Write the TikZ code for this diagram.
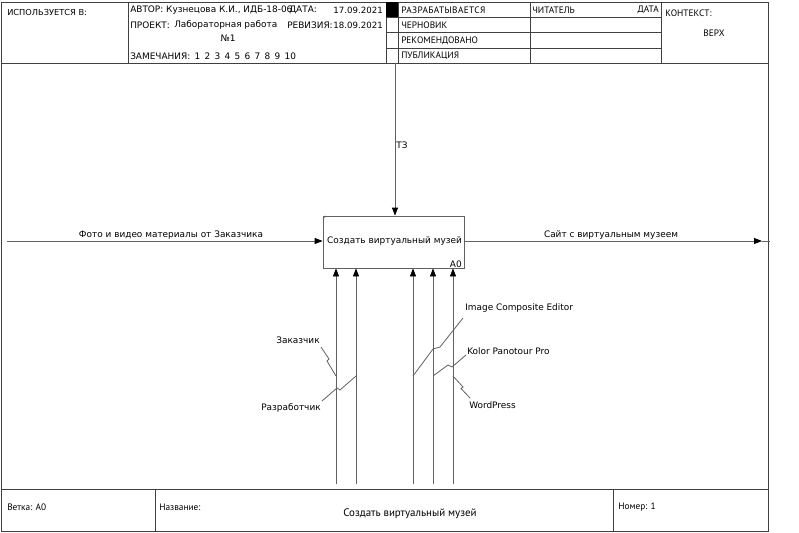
\documentclass[tikz,border=0pt]{standalone}
\usepackage{fontspec}
\setmainfont{DejaVu Sans}
\newfontfamily\ptsans{PT Sans}
\usetikzlibrary{arrows.meta}
\begin{document}
\begin{tikzpicture}[x=0.75pt,y=-0.75pt,
  frame/.style={draw=black!75, line width=0.6pt},
  ln/.style={draw=black!62, line width=0.6pt},
  arr/.style={ln, -{Triangle[length=6pt,width=4.5pt,color=black,fill=black]}},
  lbl/.style={font=\fontsize{6.7}{8}\selectfont, inner sep=0pt},
  hdr0/.style={font=\fontsize{6.2}{7}\selectfont, inner sep=0pt, anchor=west},
  hdr/.style={font=\fontsize{6.7}{7}\selectfont, inner sep=0pt, anchor=west},
  hdrd/.style={font=\fontsize{6.45}{7}\selectfont, inner sep=0pt, anchor=east},
  hdrb/.style={font=\ptsans\fontsize{7}{8}\selectfont, inner sep=0pt, anchor=west},
  fbox/.style={draw=black!62, line width=0.6pt, minimum width=105.75pt, minimum height=39pt, inner sep=0pt},
]
\useasboundingbox (0,0) rectangle (799,532);
\fill[white] (0,0) rectangle (799,532);
% frame
\draw[frame] (1,2) rectangle (768,531);
\draw[frame] (1,63) -- (768,63);
\draw[frame] (1,489) -- (768,489);
\draw[frame] (128,2) -- (128,63);
\draw[frame] (386,2) -- (386,63);
\draw[frame] (398,2) -- (398,63);
\draw[frame] (530,2) -- (530,63);
\draw[frame] (661,2) -- (661,63);
\draw[frame] (386,17) -- (661,17);
\draw[frame] (386,32) -- (661,32);
\draw[frame] (386,48) -- (661,48);
\fill[black] (386,2) rectangle (398,17);
\draw[frame] (155,489) -- (155,531);
\draw[frame] (613,489) -- (613,531);
% header texts
\node[hdr0] (h1) at (7,12) {ИСПОЛЬЗУЕТСЯ В:};
\node[hdr] (h2) at (130,10) {АВТОР: Кузнецова К.И., ИДБ-18-06};
\node[hdr] (h3) at (289,10) {ДАТА:};
\node[hdrd] (h4) at (383,10) {17.09.2021};
\node[hdr] (h5) at (130,25) {ПРОЕКТ:};
\node[hdr] (h6) at (174,25) {Лабораторная работа};
\node[hdr,anchor=center] (h7) at (228,38) {№1};
\node[hdr] (h8) at (287,25) {РЕВИЗИЯ:};
\node[hdrd] (h9) at (383,25) {18.09.2021};
\node[hdr] (h10) at (130,56) {ЗАМЕЧАНИЯ:\ \,1\ \,2\ \,3\ \,4\ \,5\ \,6\ \,7\ \,8\ \,9\ \,10};
\node[hdrb] (r1) at (401,10) {\addfontfeature{LetterSpace=4}РАЗРАБАТЫВАЕТСЯ};
\node[hdrb] (r2) at (401,25) {ЧЕРНОВИК};
\node[hdrb] (r3) at (401,41) {РЕКОМЕНДОВАНО};
\node[hdrb] (r4) at (401,56) {ПУБЛИКАЦИЯ};
\node[hdrb] (r5) at (532,10) {ЧИТАТЕЛЬ};
\node[hdrb,anchor=east] (r6) at (659,10) {ДАТА};
\node[hdrb] (r7) at (665,13) {КОНТЕКСТ:};
\node[hdrb,anchor=center] (r8) at (714,33) {ВЕРХ};
% footer
\node[hdrb] (f1) at (7,507) {Ветка: А0};
\node[hdrb] (f2) at (159,507) {Название:};
\node[hdrb,anchor=center,font=\ptsans\fontsize{8.2}{9}\selectfont] (f3) at (410,514) {Создать виртуальный музей};
\node[hdrb] (f4) at (618,507) {Номер: 1};
% function box
\node[fbox] (box) at (393.5,242) {};
\node[lbl] (boxt) at (394.5,241) {Создать виртуальный музей};
\node[lbl,anchor=east] (boxn) at (462,264) {А0};
\draw[ln] (323,218.5) -- (325.5,216);
% input
\coordinate (inS) at (7,241);
\draw[arr] (inS) -- (box.west |- inS);
\node[lbl] (inL) at (171,235) {Фото и видео материалы от Заказчика};
% output
\coordinate (outE) at (762,241);
\coordinate (outX) at (770,241);
\draw[arr] (box.east |- outE) -- (outE);
\draw[ln] (outE) -- (outX);
\node[lbl] (outL) at (611,235) {Сайт с виртуальным музеем};
% control
\coordinate (cS) at (395,63);
\draw[arr] (cS) -- (box.north -| cS);
\node[lbl] (cL) at (402,145) {ТЗ};
% mechanisms
\foreach \n/\x in {1/336,2/356,3/413,4/433,5/453}{
  \coordinate (m\n) at (\x,484);
  \coordinate (j\n) at (\x,376);
  \draw[arr] (m\n) -- (box.south -| m\n);
}
% mechanism labels and squiggles
\node[lbl] (mL1) at (298,340) {Заказчик};
\draw[ln] (321,347) -- (329,359) -- (327,361) -- (j1);
\node[lbl] (mL2) at (291,408) {Разработчик};
\draw[ln] (322,401) -- (337,388) -- (340,390) -- (j2);
\node[lbl,anchor=west] (mL3) at (465,308) {Image Composite Editor};
\draw[ln] (j3) -- (433,349) -- (440,347) -- (463,318);
\node[lbl,anchor=west] (mL4) at (467,351) {Kolor Panotour Pro};
\draw[ln] (j4) -- (448,365) -- (452,367) -- (466,355);
\node[lbl,anchor=west] (mL5) at (469,405) {WordPress};
\draw[ln] (j5) -- (463,387) -- (461,388.5) -- (470,398);
\end{tikzpicture}
\end{document}
